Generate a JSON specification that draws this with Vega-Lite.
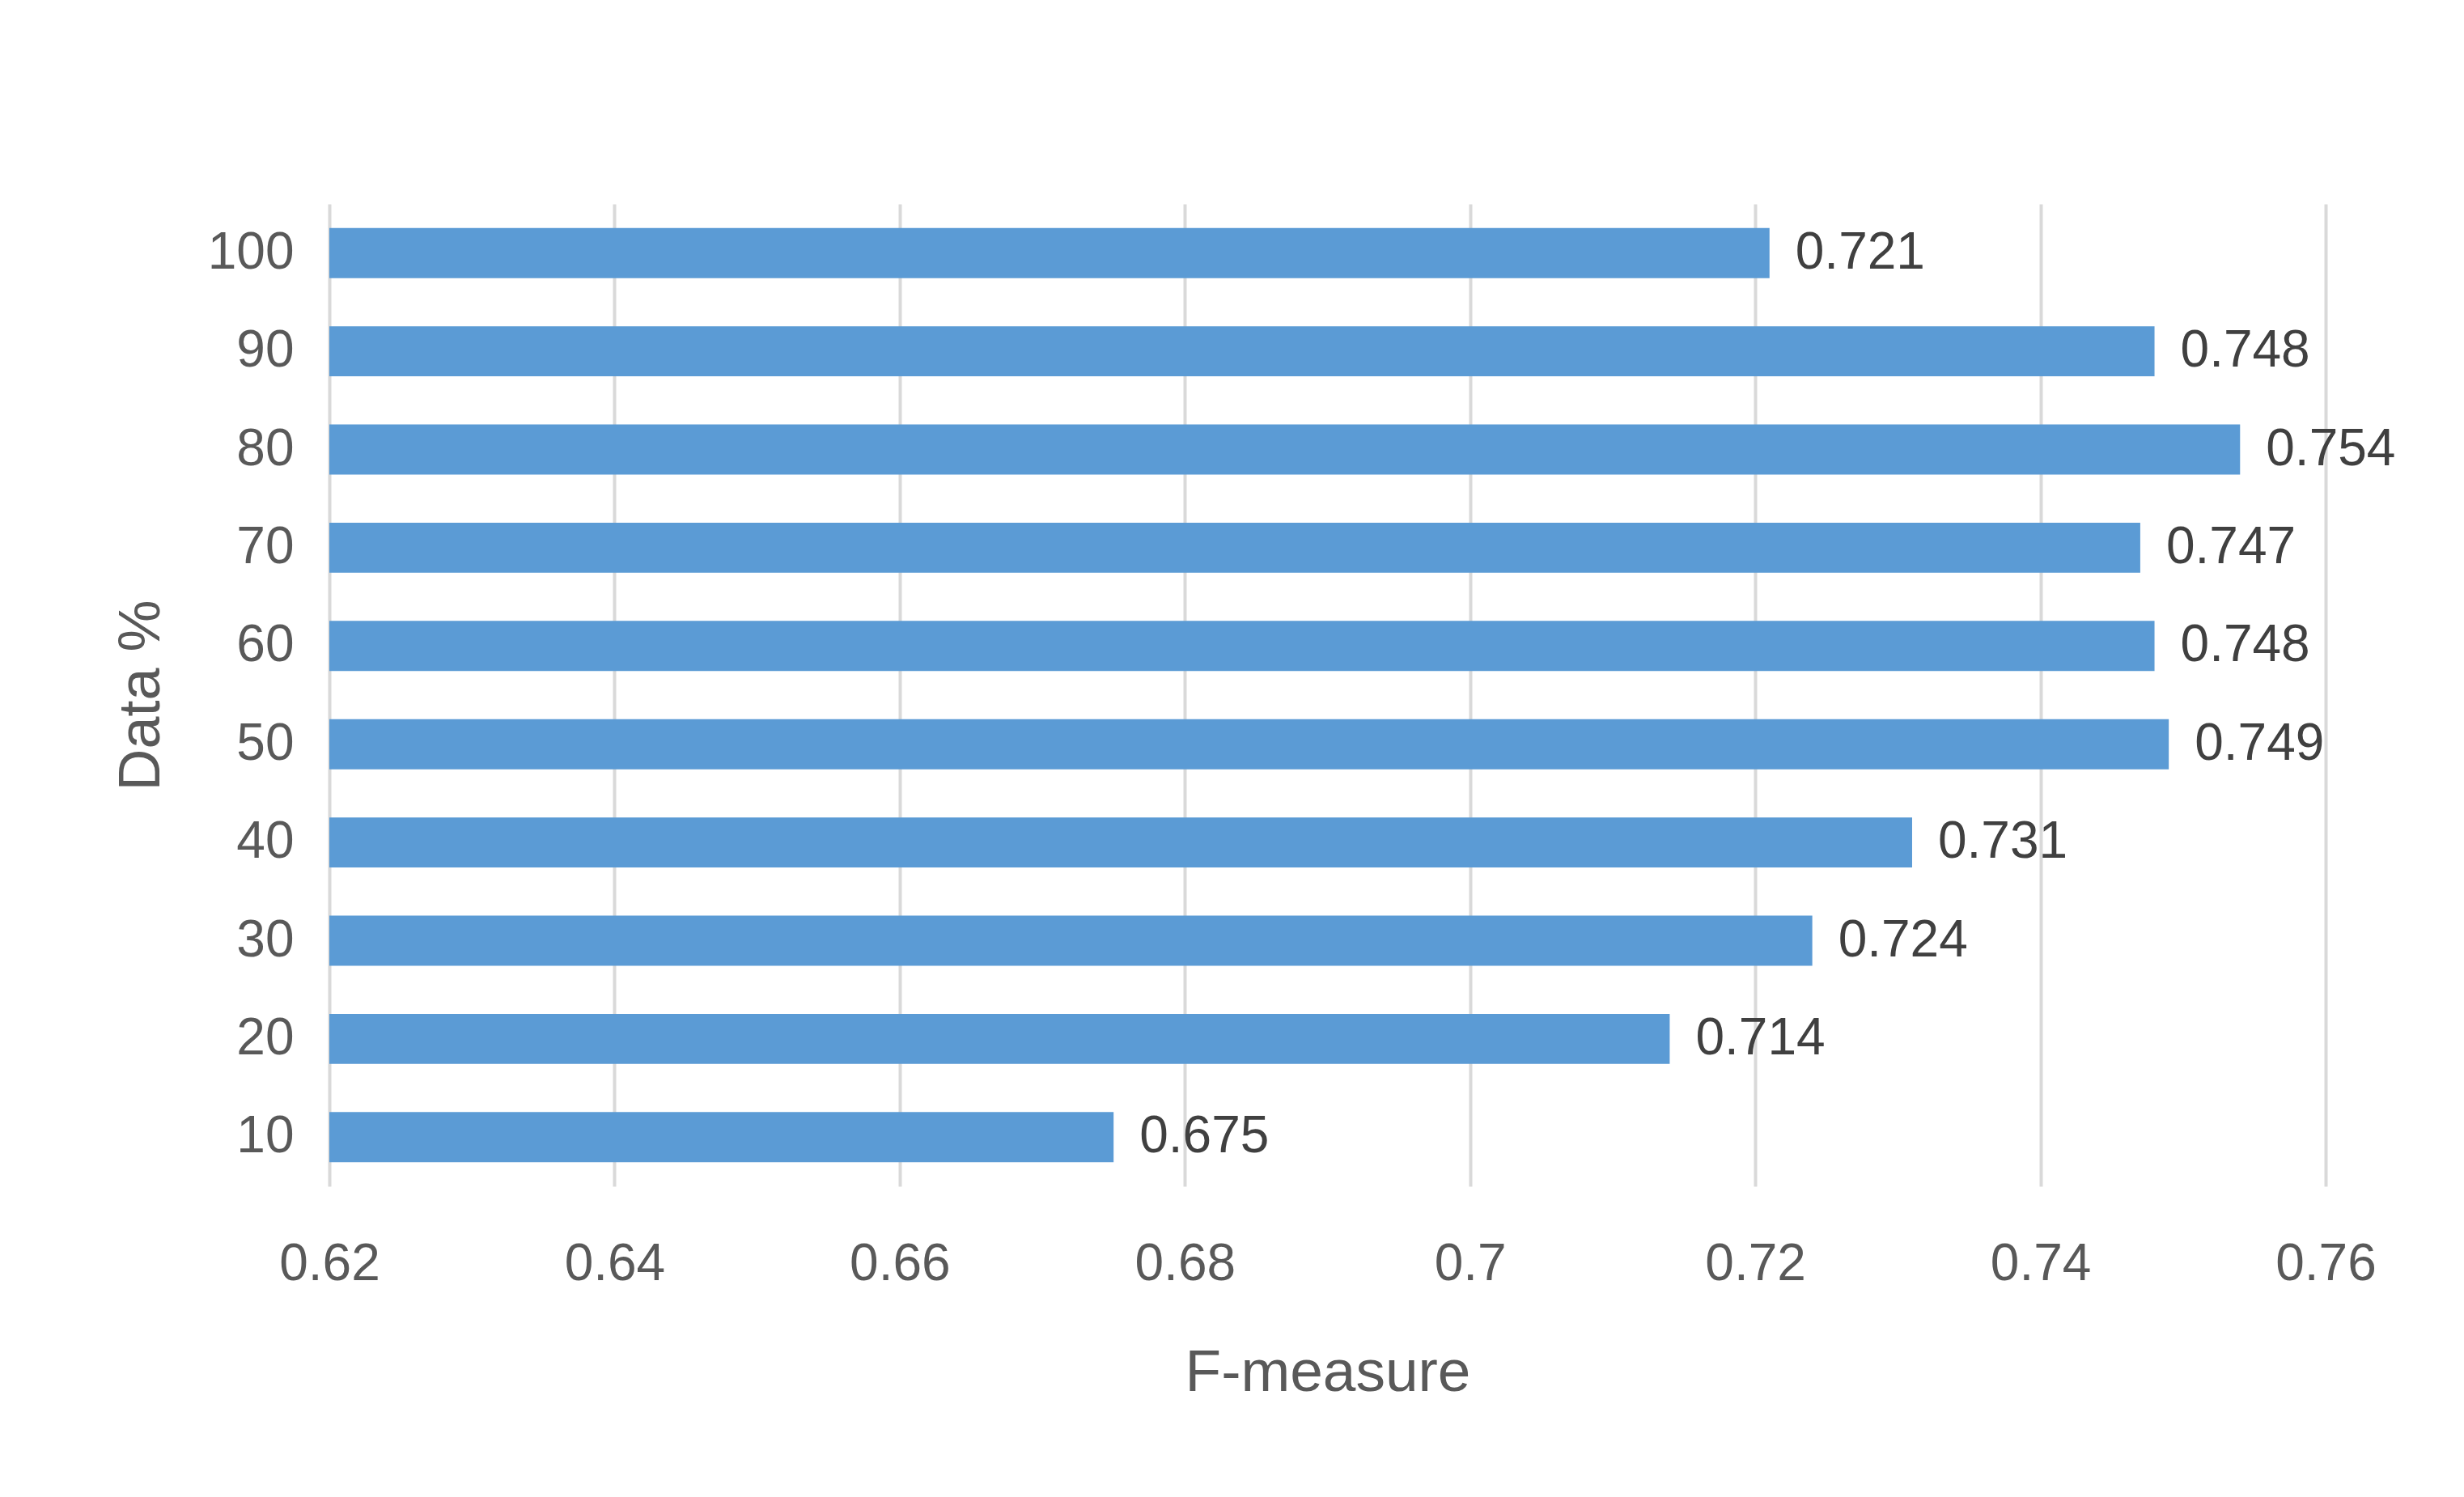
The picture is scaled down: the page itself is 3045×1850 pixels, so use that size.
{
  "$schema": "https://vega.github.io/schema/vega-lite/v6.json",
  "autosize": {"type": "none"},
  "width": 2467,
  "height": 1214,
  "padding": {"left": 407, "top": 252, "right": 171, "bottom": 384},
  "background": "white",
  "config": {
    "view": {"stroke": null},
    "font": "Liberation Sans",
    "axis": {"labelFont": "Liberation Sans", "titleFont": "Liberation Sans"}
  },
  "data": {
    "values": [
      {"data": 10, "f": 0.675},
      {"data": 20, "f": 0.714},
      {"data": 30, "f": 0.724},
      {"data": 40, "f": 0.731},
      {"data": 50, "f": 0.749},
      {"data": 60, "f": 0.748},
      {"data": 70, "f": 0.747},
      {"data": 80, "f": 0.754},
      {"data": 90, "f": 0.748},
      {"data": 100, "f": 0.721}
    ]
  },
  "encoding": {
    "y": {
      "field": "data",
      "type": "ordinal",
      "sort": "descending",
      "scale": {"paddingInner": 0.49, "paddingOuter": 0.245},
      "axis": {
        "title": "Data %",
        "titleFontSize": 72,
        "titleFontWeight": "normal",
        "titleColor": "#595959",
        "titlePadding": 45,
        "labelFontSize": 64,
        "labelColor": "#595959",
        "labelPadding": 44,
        "ticks": false,
        "tickSize": 0,
        "domain": false,
        "grid": false
      }
    }
  },
  "layer": [
    {
      "mark": {"type": "bar", "color": "#5B9BD5"},
      "encoding": {
        "x": {
          "field": "f",
          "type": "quantitative",
          "scale": {"domain": [0.62, 0.76], "nice": false, "zero": false},
          "axis": {
            "title": "F-measure",
            "titleFontSize": 73,
            "titleFontWeight": "normal",
            "titleColor": "#595959",
            "titlePadding": 66,
            "values": [0.62, 0.64, 0.66, 0.68, 0.70, 0.72, 0.74, 0.76],
            "format": ".2~f",
            "labelFontSize": 64,
            "labelColor": "#595959",
            "labelPadding": 64,
            "labelFlush": false,
            "labelOverlap": false,
            "labelBound": false,
            "ticks": false,
            "tickSize": 0,
            "domain": false,
            "grid": true,
            "gridColor": "#D9D9D9",
            "gridWidth": 4
          }
        },
        "x2": {"datum": 0.62}
      }
    },
    {
      "mark": {"type": "text", "align": "left", "baseline": "middle", "dx": 32, "fontSize": 64, "color": "#404040", "font": "Liberation Sans"},
      "encoding": {
        "x": {"field": "f", "type": "quantitative"},
        "text": {"field": "f", "type": "quantitative", "format": ".3f"}
      }
    }
  ]
}
